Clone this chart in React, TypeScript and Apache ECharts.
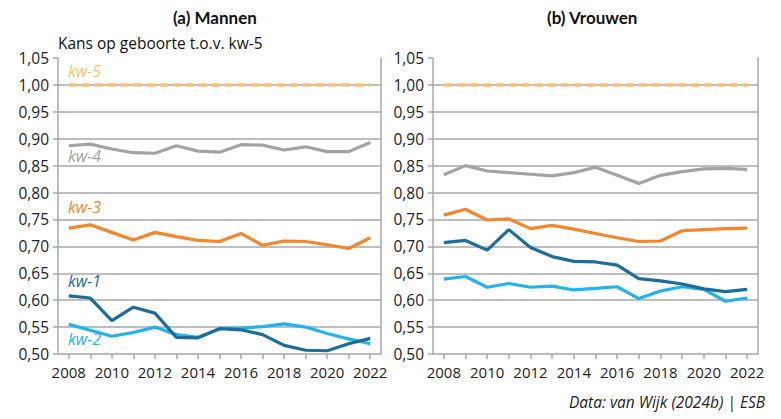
import React, { useEffect, useRef } from "react";
import * as echarts from "echarts";

const years = ["2008","2009","2010","2011","2012","2013","2014","2015","2016","2017","2018","2019","2020","2021","2022"];

const menKw5 = [1,1,1,1,1,1,1,1,1,1,1,1,1,1,1];
const menKw4 = [0.887,0.890,0.881,0.874,0.873,0.887,0.877,0.875,0.889,0.888,0.879,0.885,0.876,0.876,0.893];
const menKw3 = [0.734,0.740,0.726,0.712,0.726,0.718,0.711,0.709,0.724,0.702,0.710,0.709,0.703,0.696,0.716];
const menKw1 = [0.608,0.604,0.562,0.587,0.576,0.531,0.530,0.547,0.545,0.536,0.516,0.507,0.506,0.519,0.529];
const menKw2 = [0.555,0.544,0.533,0.540,0.550,0.536,0.531,0.547,0.548,0.551,0.556,0.550,0.538,0.528,0.519];

const womenKw5 = [1,1,1,1,1,1,1,1,1,1,1,1,1,1,1];
const womenKw4 = [0.833,0.850,0.840,0.837,0.834,0.831,0.837,0.847,0.832,0.817,0.832,0.839,0.844,0.845,0.843];
const womenKw3 = [0.758,0.769,0.749,0.751,0.733,0.739,0.732,0.724,0.716,0.709,0.710,0.729,0.731,0.733,0.734];
const womenKw1 = [0.707,0.711,0.693,0.731,0.698,0.681,0.672,0.671,0.665,0.640,0.636,0.630,0.621,0.616,0.620];
const womenKw2 = [0.639,0.644,0.624,0.631,0.624,0.626,0.619,0.622,0.625,0.603,0.617,0.625,0.620,0.598,0.604];

const seriesNames = ["kw-5", "kw-4", "kw-3", "kw-1", "kw-2"];
const panelTitles = ["(a) Mannen", "(b) Vrouwen"];
const yAxisTitle = "Kans op geboorte t.o.v. kw-5";
const sourceText = "Data: van Wijk (2024b) | ESB";

const COLORS: Record<string, string> = {
  "kw-5": "#FDC06C",
  "kw-4": "#A3A3A3",
  "kw-3": "#F5862A",
  "kw-1": "#1B6D9C",
  "kw-2": "#1FB4EC",
};
const FONT = "'Open Sans', 'Noto Sans', sans-serif";
const TITLE_FONT = "Lato, 'Open Sans', sans-serif";
const GRID_COLOR = "#A8A8A8";

export default function App() {
  const ref = useRef<HTMLDivElement>(null);
  useEffect(() => {
    if (!ref.current) return;
    const chart = echarts.init(ref.current, null, { renderer: "svg" });
    const panels = [
      [menKw5, menKw4, menKw3, menKw1, menKw2],
      [womenKw5, womenKw4, womenKw3, womenKw1, womenKw2],
    ];
    const grids = [
      { left: 58, top: 58, width: 323, height: 296 },
      { left: 433, top: 58, width: 325, height: 296 },
    ];
    const xAxis: any[] = [];
    const yAxis: any[] = [];
    grids.forEach((_, i) => {
      xAxis.push({
        type: "category",
        gridIndex: i,
        data: years,
        boundaryGap: true,
        axisLine: { show: true, lineStyle: { color: GRID_COLOR, width: 1.5 } },
        axisTick: { show: true, alignWithLabel: true, interval: 0, length: 5, lineStyle: { color: GRID_COLOR, width: 1.5 } },
        axisLabel: { interval: 1, color: "#222", fontSize: 15, fontFamily: FONT, margin: 10 },
        splitLine: { show: false },
      });
      yAxis.push({
        type: "value",
        gridIndex: i,
        min: 0.5,
        max: 1.05,
        interval: 0.05,
        axisLine: { show: true, lineStyle: { color: GRID_COLOR, width: 1.5 } },
        axisTick: { show: true, length: 5, lineStyle: { color: GRID_COLOR, width: 1.5 } },
        axisLabel: {
          color: "#222",
          fontSize: 15.5,
          fontFamily: FONT,
          margin: 9,
          formatter: (v: number) => v.toFixed(2).replace(".", ","),
        },
        splitLine: { show: true, showMaxLine: false, showMinLine: false, lineStyle: { color: GRID_COLOR, width: 1.5 } },
      });
      yAxis.push({
        type: "value",
        gridIndex: i,
        position: "right",
        min: 0.5,
        max: 1.05,
        interval: 0.05,
        axisLine: { show: true, lineStyle: { color: GRID_COLOR, width: 1.5 } },
        axisTick: { show: false },
        axisLabel: { show: false },
        splitLine: { show: false },
      });
    });
    const series: any[] = [];
    panels.forEach((data, i) => {
      data.forEach((d, k) => {
        const name = seriesNames[k];
        series.push({
          type: "line",
          name,
          xAxisIndex: i,
          yAxisIndex: i * 2,
          data: d,
          symbol: "none",
          z: 10 - k,
          lineStyle: {
            color: COLORS[name],
            width: name === "kw-5" ? 3.5 : 3.2,
            type: name === "kw-5" ? [8, 5] : "solid",
          },
        });
      });
    });
    const labelPos: Record<string, number> = {
      "kw-5": 74,
      "kw-4": 159,
      "kw-3": 210,
      "kw-1": 284,
      "kw-2": 342,
    };
    const graphic: any[] = [
      ...panelTitles.map((t, i) => ({
        type: "text",
        left: i === 0 ? 173 : 547,
        top: 9,
        style: { text: t, font: `bold 17px ${TITLE_FONT}`, fill: "#111" },
      })),
      {
        type: "text",
        left: 58,
        top: 35,
        style: { text: yAxisTitle, font: `15.5px ${FONT}`, fill: "#111" },
      },
      ...seriesNames.map((n) => ({
        type: "text",
        left: 68,
        top: labelPos[n] - 11,
        style: { text: n, font: `italic 16px ${FONT}`, fill: COLORS[n] },
      })),
      {
        type: "text",
        right: 16,
        top: 394,
        style: { text: sourceText, font: `italic 15.5px ${FONT}`, fill: "#222" },
      },
    ];
    chart.setOption({
      animation: false,
      backgroundColor: "#fff",
      grid: grids,
      xAxis,
      yAxis,
      series,
      graphic,
    });
    return () => chart.dispose();
  }, []);
  return (
    <div
      ref={ref}
      style={{ position: "fixed", left: 0, top: 0, width: 781, height: 419 }}
    />
  );
}
